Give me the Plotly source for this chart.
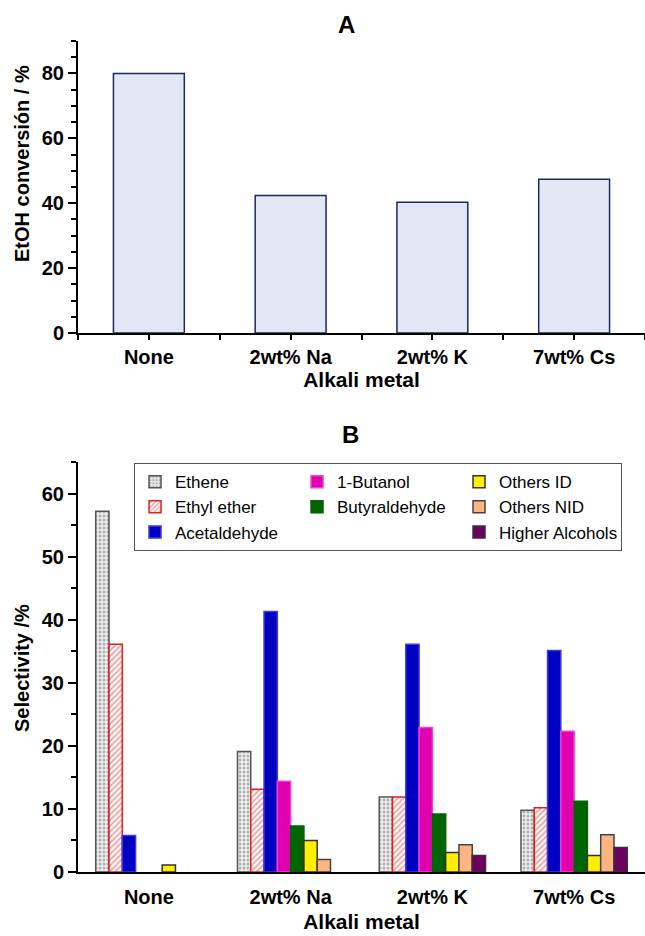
import plotly.graph_objects as go

# ---------------- data ----------------
categories = ["None", "2wt% Na", "2wt% K", "7wt% Cs"]
conversion = [80.0, 42.4, 40.3, 47.4]

products = ["Ethene", "Ethyl ether", "Acetaldehyde", "1-Butanol",
            "Butyraldehyde", "Others ID", "Others NID", "Higher Alcohols"]
ethene = [57.2, 19.1, 11.9, 9.8]
ethyl_ether = [36.1, 13.1, 11.9, 10.2]
acetaldehyde = [5.8, 41.3, 36.1, 35.1]
butanol = [None, 14.4, 22.9, 22.3]
butyraldehyde = [None, 7.3, 9.2, 11.2]
others_id = [1.1, 5.0, 3.1, 2.6]
others_nid = [None, 2.0, 4.3, 5.9]
higher_alcohols = [None, None, 2.6, 3.9]

selectivity = [ethene, ethyl_ether, acetaldehyde, butanol,
               butyraldehyde, others_id, others_nid, higher_alcohols]

# ---------------- styles ----------------
FONT = "Liberation Sans, Arial, sans-serif"
styles = {
    "Ethene": dict(color="#efefef", line="#555555",
                   pattern=dict(shape=".", fgcolor="#707070", bgcolor="#efefef", size=4, solidity=0.45), rank=1),
    "Ethyl ether": dict(color="#ffffff", line="#e02020",
                        pattern=dict(shape="/", fgcolor="#e83030", bgcolor="#ffffff", size=4, solidity=0.4), rank=4),
    "Acetaldehyde": dict(color="#0000c0", line="#3a3ae0", pattern=None, rank=7),
    "1-Butanol": dict(color="#e000b0", line="#f040d0", pattern=None, rank=2),
    "Butyraldehyde": dict(color="#006400", line="#006400", pattern=None, rank=5),
    "Others ID": dict(color="#ffee00", line="#333333", pattern=None, rank=3),
    "Others NID": dict(color="#ffb482", line="#444444", pattern=None, rank=6),
    "Higher Alcohols": dict(color="#700060", line="#333333", pattern=None, rank=9),
}

x = list(range(len(categories)))

fig = go.Figure()

# Top panel: EtOH conversion
fig.add_trace(go.Bar(
    x=x, y=conversion, xaxis="x", yaxis="y", width=0.5,
    marker=dict(color="#e2e6f5", line=dict(color="#1f2860", width=1.5)),
    showlegend=False, hoverinfo="y"))

# Bottom panel: selectivity
for name, vals in zip(products, selectivity):
    st = styles[name]
    marker = dict(color=st["color"], line=dict(color=st["line"], width=1.5))
    if st["pattern"] is not None:
        marker["pattern"] = st["pattern"]
    fig.add_trace(go.Bar(
        x=x, y=vals, name=name, xaxis="x2", yaxis="y2",
        marker=marker, legendrank=st["rank"]))

# empty legend slot (keeps the 3x3 legend layout of the original)
fig.add_trace(go.Scatter(
    x=[None], y=[None], mode="markers", name=" ", xaxis="x2", yaxis="y2",
    marker=dict(color="rgba(0,0,0,0)", size=1, line=dict(width=0)),
    legendrank=8, hoverinfo="skip"))

tickfont = dict(family=FONT, size=20, color="black", weight="bold")
titlefont = dict(family=FONT, size=21, color="black", weight="bold")
ytitlefont = dict(family=FONT, size=20, color="black", weight="bold")

common_x = dict(range=[-0.5, 3.5], tickmode="array", tickvals=x, ticktext=categories,
                showline=True, linecolor="black", linewidth=2, showgrid=False,
                zeroline=False, tickfont=tickfont)
common_y = dict(showline=True, linecolor="black", linewidth=2, showgrid=False,
                zeroline=False, ticks="outside", ticklen=8, tickwidth=1.5,
                tickcolor="black", tickfont=tickfont, tick0=0)

fig.update_layout(
    width=645, height=936,
    margin=dict(l=78, r=0, t=41, b=64),
    paper_bgcolor="white", plot_bgcolor="white",
    barmode="group", bargap=0.25, bargroupgap=0,
    xaxis=dict(**common_x, domain=[0, 1], anchor="y",
               ticks="outside", ticklen=5, tickwidth=1.5, tickcolor="black",
               minor=dict(ticks="outside", ticklen=5, tickwidth=1.5, tickcolor="black",
                          tick0=0.5, dtick=1),
               title=dict(text="Alkali metal", font=titlefont, standoff=3)),
    yaxis=dict(**common_y, domain=[0.6486, 1], anchor="x", range=[0, 90], dtick=20,
               minor=dict(ticks="outside", ticklen=5, tickwidth=1.5, tickcolor="black", dtick=5)),
    xaxis2=dict(**common_x, domain=[0, 1], anchor="y2",
                ticks="outside", ticklen=6, tickcolor="rgba(0,0,0,0)",
                title=dict(text="Alkali metal", font=titlefont, standoff=7)),
    yaxis2=dict(**common_y, domain=[0, 0.4934], anchor="x2", range=[0, 65], dtick=10,
                minor=dict(ticks="outside", ticklen=5, tickwidth=1.5, tickcolor="black", dtick=5)),
    legend=dict(orientation="h", x=0.0988, y=0.492, xanchor="left", yanchor="top",
                entrywidth=117, bgcolor="white", bordercolor="#555555", borderwidth=1,
                font=dict(family=FONT, size=17, color="black"), traceorder="normal"),
    annotations=[
        dict(text="A", x=0.4744, y=1.0193, xref="paper", yref="paper", showarrow=False,
             xanchor="center", yanchor="middle",
             font=dict(family=FONT, size=24, color="black", weight="bold")),
        dict(text="B", x=0.48, y=0.5259, xref="paper", yref="paper", showarrow=False,
             xanchor="center", yanchor="middle",
             font=dict(family=FONT, size=24, color="black", weight="bold")),
        dict(text="EtOH conversión / %", x=-0.0988, y=0.8532, xref="paper", yref="paper",
             showarrow=False, textangle=-90, xanchor="center", yanchor="middle", font=ytitlefont),
        dict(text="Selectivity /%", x=-0.0988, y=0.2455, xref="paper", yref="paper",
             showarrow=False, textangle=-90, xanchor="center", yanchor="middle", font=ytitlefont),
    ],
)

fig.write_html("out.html")
